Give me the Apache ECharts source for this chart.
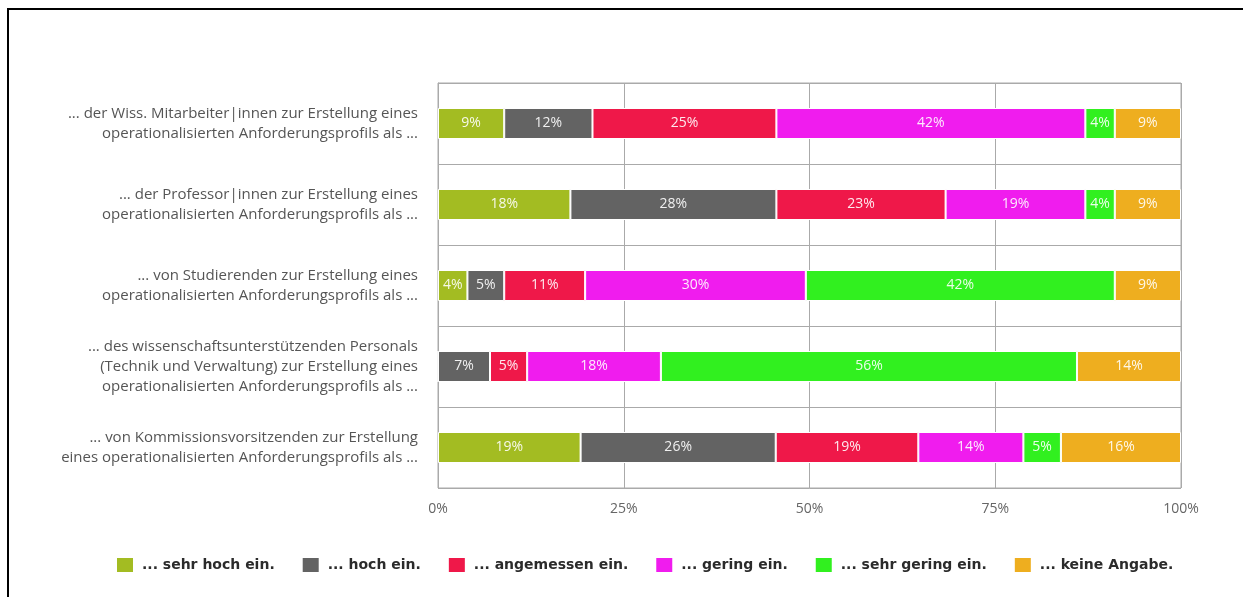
<!DOCTYPE html>
<html>
<head>
<meta charset="utf-8">
<script src="https://cdn.jsdelivr.net/npm/echarts@6/dist/echarts.min.js"></script>
<style>
  html, body { margin: 0; padding: 0; background: #fff; }
  #frame { position: absolute; left: 7px; top: 8px; width: 1236px; height: 589px;
           border-top: 2px solid #000; border-left: 2px solid #000; }
  #chart { position: absolute; left: 0; top: 0; width: 1243px; height: 597px; }
</style>
</head>
<body>
<div id="frame"></div>
<div id="chart"></div>
<script>
// Groups asked about (one horizontal bar each, top to bottom)
const categories = [
  '... der Wiss. Mitarbeiter|innen zur Erstellung eines\noperationalisierten Anforderungsprofils als ...',
  '... der Professor|innen zur Erstellung eines\noperationalisierten Anforderungsprofils als ...',
  '... von Studierenden zur Erstellung eines\noperationalisierten Anforderungsprofils als ...',
  '... des wissenschaftsunterstützenden Personals\n(Technik und Verwaltung) zur Erstellung eines\noperationalisierten Anforderungsprofils als ...',
  '... von Kommissionsvorsitzenden zur Erstellung\neines operationalisierten Anforderungsprofils als ...'
];

// Answer shares in percent, per answer option
const sehrHoch    = [9, 18, 4, 0, 19];
const hoch        = [12, 28, 5, 7, 26];
const angemessen  = [25, 23, 11, 5, 19];
const gering      = [42, 19, 30, 18, 14];
const sehrGering  = [4, 4, 42, 56, 5];
const keineAngabe = [9, 9, 9, 14, 16];

const seriesNames = ['... sehr hoch ein.', '... hoch ein.', '... angemessen ein.',
                     '... gering ein.', '... sehr gering ein.', '... keine Angabe.'];
const seriesColors = ['#a3bc22', '#636363', '#ef1849', '#f01cee', '#31f01f', '#eeae1f'];
const xTicks = [0, 25, 50, 75, 100];

const allSeries = [sehrHoch, hoch, angemessen, gering, sehrGering, keineAngabe];

// Each bar is stacked to 100 %: segments are scaled by their row total
const rowTotals = categories.map((_, i) => allSeries.reduce((s, arr) => s + arr[i], 0));

const font = "'Open Sans', sans-serif";
const legendFont = "'DejaVu Sans', sans-serif";
const lineColor = '#aaaaaa';

const chart = echarts.init(document.getElementById('chart'), null, { renderer: 'canvas' });
chart.setOption({
  animation: false,
  textStyle: { fontFamily: font },
  grid: {
    left: 438, right: 62, top: 83, bottom: 109,
    show: true, borderColor: lineColor, borderWidth: 1, backgroundColor: 'transparent'
  },
  legend: {
    top: 551, left: 110,
    icon: 'rect', itemWidth: 18, itemHeight: 16, itemGap: 26,
    textStyle: { color: '#2b2b2b', fontSize: 14, fontWeight: 'bold', fontFamily: legendFont, padding: [0, 0, 0, 3] },
    data: seriesNames
  },
  xAxis: {
    type: 'value', min: xTicks[0], max: xTicks[xTicks.length - 1], interval: 25,
    axisLine: { show: false }, axisTick: { show: false },
    axisLabel: { color: '#666', fontSize: 14, margin: 14, formatter: '{value}%', fontFamily: font },
    splitLine: { show: true, lineStyle: { color: lineColor, width: 1 } }
  },
  yAxis: {
    type: 'category', inverse: true, data: categories,
    axisLine: { show: true, lineStyle: { color: lineColor } },
    axisTick: { show: false },
    axisLabel: { color: '#555', fontSize: 15, lineHeight: 20, margin: 20, align: 'right', fontFamily: font },
    splitLine: { show: true, lineStyle: { color: lineColor, width: 1 } }
  },
  series: allSeries.map((arr, k) => ({
    name: seriesNames[k],
    type: 'bar',
    stack: 'total',
    barWidth: 31,
    itemStyle: { color: seriesColors[k], borderColor: '#fff', borderWidth: 1 },
    label: {
      show: true, position: 'inside', color: 'rgba(255,255,255,0.9)',
      fontSize: 14, fontFamily: font,
      formatter: p => p.data.raw > 0 ? p.data.raw + '%' : ''
    },
    data: arr.map((v, i) => ({ value: v / rowTotals[i] * 100, raw: v }))
  }))
});
</script>
</body>
</html>
